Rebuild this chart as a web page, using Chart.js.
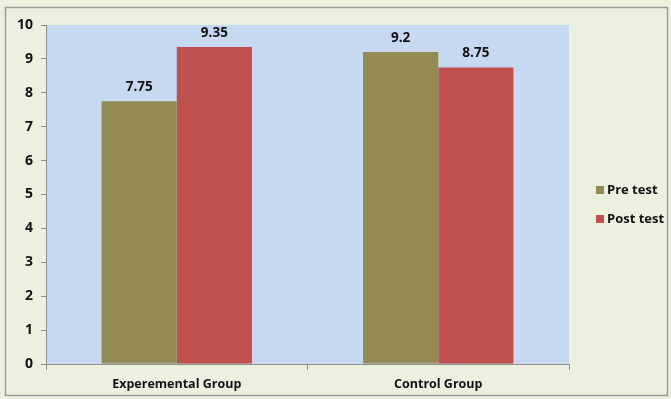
<!DOCTYPE html>
<html><head><meta charset="utf-8">
<script src="https://cdn.jsdelivr.net/npm/chart.js@4/dist/chart.umd.min.js"></script>
<style>html,body{margin:0;padding:0;background:#EBF0DF;}#wrap{width:671px;height:399px;}</style>
</head><body><div id="wrap"><canvas id="c" width="671" height="399"></canvas></div>
<script>
const categories = ["Experemental Group", "Control Group"];
const preTest = [7.75, 9.2];
const postTest = [9.35, 8.75];
const seriesNames = ["Pre test", "Post test"];
const yTicks = [0,1,2,3,4,5,6,7,8,9,10];

const FONT = "'Open Sans', Lato, sans-serif";
const bgPlugin = {
  id: 'bg',
  beforeDraw(chart) {
    const ctx = chart.ctx, a = chart.chartArea;
    ctx.save();
    ctx.fillStyle = '#EBF0DF';
    ctx.fillRect(0,0,chart.width,chart.height);
    ctx.strokeStyle = '#9A9A9A';
    ctx.lineWidth = 1.5;
    ctx.strokeRect(5.5,7.5,chart.width-9,chart.height-11);
    ctx.fillStyle = '#C6D9F1';
    ctx.fillRect(a.left, a.top, a.right-a.left, a.bottom-a.top);
    ctx.restore();
  },
  afterDatasetsDraw(chart) {
    const ctx = chart.ctx;
    ctx.save();
    ctx.font = "bold 13.5px " + FONT;
    ctx.fillStyle = '#111';
    ctx.textAlign = 'center';
    ctx.textBaseline = 'alphabetic';
    chart.data.datasets.forEach((ds, i) => {
      chart.getDatasetMeta(i).data.forEach((bar, j) => {
        ctx.fillText(String(ds.data[j]), bar.x, bar.y - 10);
      });
    });
    // legend
    ctx.font = "bold 13px " + FONT;
    ctx.textAlign = 'left';
    ctx.textBaseline = 'middle';
    chart.data.datasets.forEach((ds, i) => {
      const y = 190 + i*29;
      ctx.fillStyle = ds.backgroundColor;
      ctx.fillRect(596, y-4, 8, 8);
      ctx.fillStyle = '#111';
      ctx.fillText(ds.label, 607, y);
    });
    ctx.restore();
  }
};

new Chart(document.getElementById('c'), {
  type: 'bar',
  data: {
    labels: categories,
    datasets: [
      { label: seriesNames[0], data: preTest, backgroundColor: '#948A54' },
      { label: seriesNames[1], data: postTest, backgroundColor: '#C0504D' }
    ]
  },
  options: {
    responsive: false,
    animation: false,
    devicePixelRatio: 1,
    layout: { padding: { left: 9, right: 102, top: 25, bottom: 0 } },
    datasets: { bar: { categoryPercentage: 0.575, barPercentage: 1.0 } },
    plugins: { legend: { display: false }, tooltip: { enabled: false } },
    scales: {
      x: {
        grid: { drawOnChartArea: false, drawTicks: true, tickLength: 6, color: '#8E8E8E', offset: true },
        border: { color: '#8E8E8E', width: 1 },
        ticks: { color: '#111', font: { family: FONT, size: 12.5, weight: 'bold' }, padding: 7 }
      },
      y: {
        min: 0, max: 10,
        afterBuildTicks(axis) { axis.ticks = yTicks.map(v => ({ value: v })); },
        grid: { drawOnChartArea: false, drawTicks: true, tickLength: 5, color: '#8E8E8E' },
        border: { color: '#8E8E8E', width: 1 },
        ticks: { color: '#111', font: { family: FONT, size: 14, weight: 'bold' }, padding: 8 }
      }
    }
  },
  plugins: [bgPlugin]
});
</script>
</body></html>
